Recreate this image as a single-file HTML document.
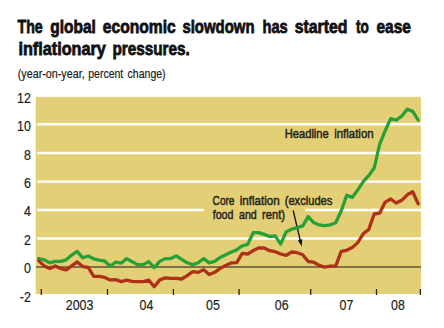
<!DOCTYPE html>
<html><head><meta charset="utf-8"><style>
html,body{margin:0;padding:0;background:#fff;}
svg{display:block;font-family:"Liberation Sans",sans-serif;}
</style></head><body>
<svg width="444" height="328" viewBox="0 0 444 328">
<rect x="0" y="0" width="444" height="328" fill="#fff"/>
<rect x="35.7" y="96.9" width="385.3" height="197.1" fill="#e3cf76"/>
<line x1="37" y1="124.3" x2="421" y2="124.3" stroke="#fff" stroke-width="2.4"/>
<line x1="37" y1="153.0" x2="421" y2="153.0" stroke="#fff" stroke-width="2.4"/>
<line x1="37" y1="181.6" x2="421" y2="181.6" stroke="#fff" stroke-width="2.4"/>
<line x1="37" y1="238.5" x2="421" y2="238.5" stroke="#fff" stroke-width="2.4"/>
<line x1="37" y1="210" x2="204" y2="210" stroke="#fff" stroke-width="2.4"/>
<line x1="305" y1="210" x2="421" y2="210" stroke="#fff" stroke-width="2.4"/>
<line x1="36" y1="267" x2="421" y2="267" stroke="#5c5438" stroke-width="1.7"/>
<line x1="41.3" y1="289" x2="41.3" y2="295" stroke="#222" stroke-width="1.3"/>
<line x1="107.5" y1="289" x2="107.5" y2="295" stroke="#222" stroke-width="1.3"/>
<line x1="173.4" y1="289" x2="173.4" y2="295" stroke="#222" stroke-width="1.3"/>
<line x1="239.1" y1="289" x2="239.1" y2="295" stroke="#222" stroke-width="1.3"/>
<line x1="310.7" y1="289" x2="310.7" y2="295" stroke="#222" stroke-width="1.3"/>
<line x1="376.5" y1="289" x2="376.5" y2="295" stroke="#222" stroke-width="1.3"/>
<line x1="420.4" y1="289" x2="420.4" y2="295" stroke="#222" stroke-width="1.3"/>
<text transform="translate(284.71,138) scale(0.8274,1)" font-size="13.5" font-weight="normal" fill="#231f1a" stroke="#231f1a" stroke-width="0.5">Headline</text>
<text transform="translate(334.21,138) scale(0.8483,1)" font-size="13.5" font-weight="normal" fill="#231f1a" stroke="#231f1a" stroke-width="0.5">inflation</text>
<text transform="translate(212.59,204.9) scale(0.7437,1)" font-size="13.6" font-weight="normal" fill="#231f1a" stroke="#231f1a" stroke-width="0.5">Core</text>
<text transform="translate(239.71,204.9) scale(0.8548,1)" font-size="13.6" font-weight="normal" fill="#231f1a" stroke="#231f1a" stroke-width="0.5">inflation</text>
<text transform="translate(284.70,204.9) scale(0.8193,1)" font-size="13.6" font-weight="normal" fill="#231f1a" stroke="#231f1a" stroke-width="0.5">(excludes</text>
<text transform="translate(212.70,218.8) scale(0.7825,1)" font-size="13.6" font-weight="normal" fill="#231f1a" stroke="#231f1a" stroke-width="0.5">food</text>
<text transform="translate(239.00,218.8) scale(0.7850,1)" font-size="13.6" font-weight="normal" fill="#231f1a" stroke="#231f1a" stroke-width="0.5">and</text>
<text transform="translate(262.01,218.8) scale(0.8222,1)" font-size="13.6" font-weight="normal" fill="#231f1a" stroke="#231f1a" stroke-width="0.5">rent)</text>
<line x1="293.2" y1="210.5" x2="300.4" y2="241" stroke="#111" stroke-width="1.3"/>
<polygon points="297.9,240.3 302.3,239.2 301.7,246.6" fill="#111"/>
<polyline points="38.70,258.50 44.20,259.80 49.70,262.90 55.20,261.40 60.70,261.40 66.20,259.80 71.70,255.10 77.20,251.40 82.70,257.80 88.20,256.00 93.70,258.80 99.20,260.10 104.70,261.00 110.20,266.20 115.70,262.10 121.20,263.20 126.70,258.60 132.20,261.80 137.70,264.60 143.20,264.60 148.70,261.60 154.20,267.60 159.70,261.40 165.20,258.60 170.70,258.60 176.20,255.90 181.70,259.30 187.20,262.80 192.70,264.60 198.20,262.80 203.70,258.60 209.20,262.90 214.70,261.30 220.20,257.40 225.70,254.70 231.20,252.00 236.70,249.90 242.20,245.80 247.70,244.40 253.20,232.70 258.70,232.60 264.20,234.40 269.70,236.50 275.20,235.80 280.70,244.10 286.20,231.70 291.70,229.20 297.20,227.60 302.70,225.90 308.20,216.60 313.70,222.60 319.20,224.90 324.70,225.60 330.20,224.80 335.70,222.80 341.20,211.00 346.70,195.30 352.20,197.40 357.70,190.10 363.20,181.70 368.70,175.60 374.20,168.00 379.70,144.10 385.20,130.60 390.70,118.60 396.20,120.10 401.70,116.20 407.20,109.30 412.70,111.40 418.20,120.10" fill="none" stroke="#26a037" stroke-width="3.3" stroke-linejoin="round" stroke-linecap="round"/>
<polyline points="38.70,260.90 44.20,265.90 49.70,268.60 55.20,265.90 60.70,268.60 66.20,269.90 71.70,265.90 77.20,261.90 82.70,266.60 88.20,267.30 93.70,276.40 99.20,276.40 104.70,277.40 110.20,279.90 115.70,279.60 121.20,281.60 126.70,280.20 132.20,281.30 137.70,281.60 143.20,281.60 148.70,280.10 154.20,286.80 159.70,279.90 165.20,277.90 170.70,278.30 176.20,278.30 181.70,279.00 187.20,275.60 192.70,271.70 198.20,272.40 203.70,269.60 209.20,274.60 214.70,272.30 220.20,268.40 225.70,265.40 231.20,262.90 236.70,262.60 242.20,253.30 247.70,254.00 253.20,250.60 258.70,248.00 264.20,248.00 269.70,250.70 275.20,251.70 280.70,254.00 286.20,255.40 291.70,252.00 297.20,252.70 302.70,254.70 308.20,261.50 313.70,262.20 319.20,265.40 324.70,267.10 330.20,266.10 335.70,266.10 341.20,251.40 346.70,250.30 352.20,247.60 357.70,242.60 363.20,233.80 368.70,229.50 374.20,214.00 379.70,213.10 385.20,202.10 390.70,199.00 396.20,203.00 401.70,200.30 407.20,194.80 412.70,191.70 418.20,203.90" fill="none" stroke="#ae3018" stroke-width="3.3" stroke-linejoin="round" stroke-linecap="round"/>
<text transform="translate(30.8,102.6) scale(0.9,1)" font-size="13.8" font-weight="normal" text-anchor="end" fill="#231f1a" stroke="#231f1a" stroke-width="0.2">12</text>
<text transform="translate(30.8,131.06) scale(0.9,1)" font-size="13.8" font-weight="normal" text-anchor="end" fill="#231f1a" stroke="#231f1a" stroke-width="0.2">10</text>
<text transform="translate(30.8,159.52) scale(0.9,1)" font-size="13.8" font-weight="normal" text-anchor="end" fill="#231f1a" stroke="#231f1a" stroke-width="0.2">8</text>
<text transform="translate(30.8,187.98) scale(0.9,1)" font-size="13.8" font-weight="normal" text-anchor="end" fill="#231f1a" stroke="#231f1a" stroke-width="0.2">6</text>
<text transform="translate(30.8,216.44) scale(0.9,1)" font-size="13.8" font-weight="normal" text-anchor="end" fill="#231f1a" stroke="#231f1a" stroke-width="0.2">4</text>
<text transform="translate(30.8,244.9) scale(0.9,1)" font-size="13.8" font-weight="normal" text-anchor="end" fill="#231f1a" stroke="#231f1a" stroke-width="0.2">2</text>
<text transform="translate(30.8,273.36) scale(0.9,1)" font-size="13.8" font-weight="normal" text-anchor="end" fill="#231f1a" stroke="#231f1a" stroke-width="0.2">0</text>
<text transform="translate(30.8,301.82) scale(0.9,1)" font-size="13.8" font-weight="normal" text-anchor="end" fill="#231f1a" stroke="#231f1a" stroke-width="0.2">-2</text>
<text transform="translate(79.6,310.2) scale(0.9,1)" font-size="13.8" font-weight="normal" text-anchor="middle" fill="#231f1a" stroke="#231f1a" stroke-width="0.2">2003</text>
<text transform="translate(146.4,310.2) scale(0.9,1)" font-size="13.8" font-weight="normal" text-anchor="middle" fill="#231f1a" stroke="#231f1a" stroke-width="0.2">04</text>
<text transform="translate(212.9,310.2) scale(0.9,1)" font-size="13.8" font-weight="normal" text-anchor="middle" fill="#231f1a" stroke="#231f1a" stroke-width="0.2">05</text>
<text transform="translate(281.7,310.2) scale(0.9,1)" font-size="13.8" font-weight="normal" text-anchor="middle" fill="#231f1a" stroke="#231f1a" stroke-width="0.2">06</text>
<text transform="translate(346.4,310.2) scale(0.9,1)" font-size="13.8" font-weight="normal" text-anchor="middle" fill="#231f1a" stroke="#231f1a" stroke-width="0.2">07</text>
<text transform="translate(397.9,310.2) scale(0.9,1)" font-size="13.8" font-weight="normal" text-anchor="middle" fill="#231f1a" stroke="#231f1a" stroke-width="0.2">08</text>
<text transform="translate(17.50,33.4) scale(0.7461,1)" font-size="19" font-weight="bold" fill="#111" stroke="#111" stroke-width="0.8">The</text>
<text transform="translate(50.23,33.4) scale(0.8161,1)" font-size="19" font-weight="bold" fill="#111" stroke="#111" stroke-width="0.8">global</text>
<text transform="translate(102.83,33.4) scale(0.8235,1)" font-size="19" font-weight="bold" fill="#111" stroke="#111" stroke-width="0.8">economic</text>
<text transform="translate(182.41,33.4) scale(0.7859,1)" font-size="19" font-weight="bold" fill="#111" stroke="#111" stroke-width="0.8">slowdown</text>
<text transform="translate(262.41,33.4) scale(0.7753,1)" font-size="19" font-weight="bold" fill="#111" stroke="#111" stroke-width="0.8">has</text>
<text transform="translate(294.73,33.4) scale(0.8338,1)" font-size="19" font-weight="bold" fill="#111" stroke="#111" stroke-width="0.8">started</text>
<text transform="translate(355.89,33.4) scale(0.7152,1)" font-size="19" font-weight="bold" fill="#111" stroke="#111" stroke-width="0.8">to</text>
<text transform="translate(376.53,33.4) scale(0.8125,1)" font-size="19" font-weight="bold" fill="#111" stroke="#111" stroke-width="0.8">ease</text>
<text transform="translate(18.44,55.0) scale(0.8546,1)" font-size="19" font-weight="bold" fill="#111" stroke="#111" stroke-width="0.8">inflationary</text>
<text transform="translate(112.42,55.0) scale(0.8058,1)" font-size="19" font-weight="bold" fill="#111" stroke="#111" stroke-width="0.8">pressures.</text>
<text transform="translate(17.68,77.7) scale(0.8491,1)" font-size="12.7" font-weight="normal" fill="#222" stroke="#222" stroke-width="0.2">(year-on-year,</text>
<text transform="translate(88.28,77.7) scale(0.8272,1)" font-size="12.7" font-weight="normal" fill="#222" stroke="#222" stroke-width="0.2">percent</text>
<text transform="translate(127.58,77.7) scale(0.8287,1)" font-size="12.7" font-weight="normal" fill="#222" stroke="#222" stroke-width="0.2">change)</text>
</svg>
</body></html>
